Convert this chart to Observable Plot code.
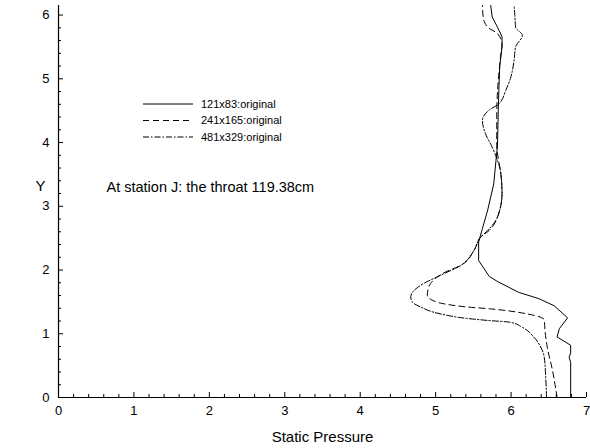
<!DOCTYPE html>
<html><head><meta charset="utf-8">
<script src="https://cdn.jsdelivr.net/npm/d3@7"></script>
<script src="https://cdn.jsdelivr.net/npm/@observablehq/plot@0.6"></script>
<style>
body{margin:0;background:#fff;}
#chart{position:relative;width:590px;height:448px;font-family:"Liberation Sans",Arial,sans-serif;}
#legend{position:absolute;left:0;top:0;}
</style>
</head><body><div id="chart"></div>
<script>
const seriesNames = ["121x83:original", "241x165:original", "481x329:original"];
const dashes = [null, "6,4", "6,2,1.5,2"];

// 121x83
const p1 = [6.79,6.79,6.77,6.79,6.79,6.61,6.64,6.75,6.57,6.37,6.10,5.82,5.71,5.57,5.57,5.62,5.69,5.77,5.80,5.82,5.83,5.84,5.85,5.88,5.88,5.82,5.75,5.73];
const y1 = [0,0.55,0.63,0.70,0.82,0.95,1.08,1.25,1.44,1.55,1.65,1.82,1.90,2.15,2.44,2.65,2.94,3.35,3.72,3.95,4.50,4.90,5.20,5.50,5.66,5.81,5.97,6.15];
// 241x165
const p2 = [6.61,6.55,6.48,6.45,6.44,6.22,5.73,5.42,5.11,4.95,4.89,4.90,5.02,5.15,5.33,5.51,5.60,5.69,5.82,5.88,5.86,5.83,5.81,5.81,5.82,5.84,5.86,5.88,5.82,5.69,5.63,5.62];
const y2 = [0,0.42,0.79,1.05,1.22,1.31,1.39,1.42,1.47,1.53,1.60,1.70,1.89,1.98,2.07,2.31,2.52,2.60,2.83,3.20,3.55,3.75,3.95,4.40,4.80,5.10,5.34,5.55,5.71,5.81,5.97,6.15];
// 481x329
const p3 = [6.47,6.46,6.44,6.38,6.30,6.15,5.99,5.68,5.42,5.07,4.80,4.69,4.67,4.70,4.80,5.07,5.33,5.51,5.60,5.69,5.82,5.88,5.86,5.82,5.74,5.66,5.62,5.70,5.84,5.93,5.99,6.04,6.06,6.15,6.06,6.05,6.04];
const y3 = [0,0.30,0.63,0.82,0.95,1.10,1.18,1.21,1.24,1.31,1.42,1.50,1.58,1.66,1.76,1.92,2.07,2.31,2.52,2.62,2.83,3.20,3.55,3.72,3.95,4.14,4.35,4.50,4.61,4.82,5.00,5.29,5.50,5.68,5.81,6.00,6.15];

const xMajor = [0,1,2,3,4,5,6,7];
const yMajor = [0,1,2,3,4,5,6];
const xMinor = d3.range(0, 7.0001, 0.2).map(v => +v.toFixed(1)).filter(v => !xMajor.includes(v));
const yMinor = d3.range(0, 6.1, 0.2).map(v => +v.toFixed(1)).filter(v => !yMajor.includes(v));

const series = [[p1,y1],[p2,y2],[p3,y3]].map(([p,y],i) => p.map((v,j) => ({x:v, y:y[j], s:seriesNames[i]})));

const font = '"Liberation Sans", Arial, sans-serif';
const chart = Plot.plot({
  width: 590, height: 448,
  marginLeft: 58, marginRight: 4, marginTop: 5, marginBottom: 51,
  style: {fontFamily: font, fontSize: "13px", background: "#fff", color: "#000"},
  x: {domain: [0, 7]},
  y: {domain: [0, 6.15]},
  marks: [
    // inward ticks
    Plot.ruleX(xMajor, {x: d => d, y1: 0, y2: 0, insetBottom: 5, stroke: "#000"}),
    Plot.ruleX(xMinor, {x: d => d, y1: 0, y2: 0, insetBottom: 3, stroke: "#000"}),
    Plot.ruleY(yMajor, {y: d => d, x1: 0, x2: 0, insetRight: -5, stroke: "#000"}),
    Plot.ruleY(yMinor, {y: d => d, x1: 0, x2: 0, insetRight: -3, stroke: "#000"}),
    Plot.axisX({ticks: xMajor, tickSize: 0, tickPadding: 8, label: null, tickFormat: d => String(d)}),
    Plot.axisY({ticks: yMajor, tickSize: 0, tickPadding: 9, label: null, tickFormat: d => String(d)}),
    Plot.ruleX([0], {stroke: "#000", strokeWidth: 1.2}),
    Plot.ruleY([0], {stroke: "#000", strokeWidth: 1.2}),
    ...series.map((data, i) => Plot.line(data, {x: "x", y: "y", stroke: "#000", strokeWidth: 1, strokeDasharray: dashes[i], curve: i === 0 ? "linear" : "monotone-y"})),
    Plot.text(["Static Pressure"], {frameAnchor: "bottom", dy: 40, lineAnchor: "middle", fontSize: 15}),
    Plot.text(["Y"], {frameAnchor: "left", dx: -23, dy: -15, lineAnchor: "middle", fontSize: 15}),
    Plot.text(["At station J: the throat 119.38cm"], {frameAnchor: "top-left", dx: 48, dy: 182, textAnchor: "start", lineAnchor: "middle", fontSize: 14.5})
  ]
});
const container = document.getElementById("chart");
container.appendChild(chart);

// legend overlay
const lg = d3.select(container).append("svg").attr("id", "legend").attr("width", 590).attr("height", 448);
seriesNames.forEach((name, i) => {
  const yy = 104 + i * 16.5;
  lg.append("line").attr("x1", 143).attr("x2", 193).attr("y1", yy).attr("y2", yy)
    .attr("stroke", "#000").attr("stroke-width", 1).attr("stroke-dasharray", dashes[i]);
  lg.append("text").attr("x", 201).attr("y", yy).attr("dy", "0.35em")
    .attr("font-family", font).attr("font-size", 11).text(name);
});
</script>
</body></html>
